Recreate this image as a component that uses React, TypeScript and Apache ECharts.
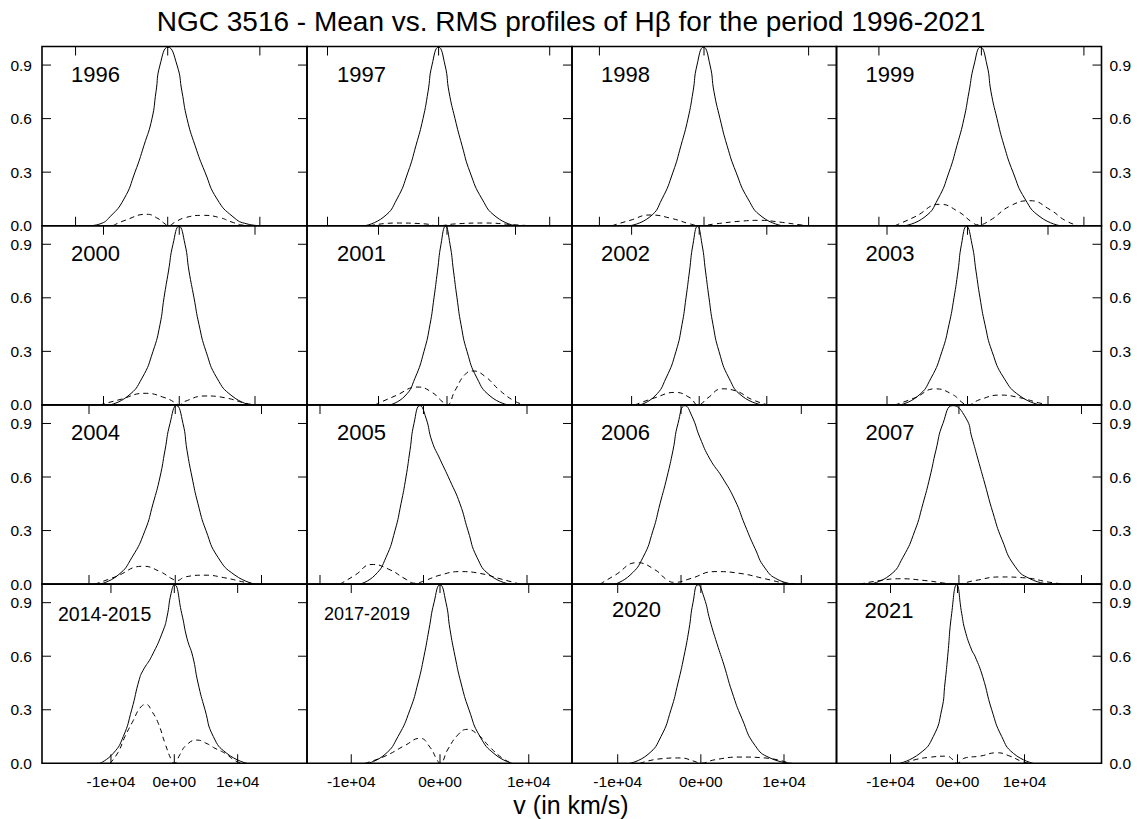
import React, { useEffect, useRef } from "react";
import * as echarts from "echarts";

const titleText = "NGC 3516 - Mean vs. RMS profiles of Hβ for the period 1996-2021";
const xAxisTitle = "v (in km/s)";
const panelLabels = ["1996", "1997", "1998", "1999", "2000", "2001", "2002", "2003", "2004", "2005", "2006", "2007", "2014-2015", "2017-2019", "2020", "2021"];
const xTicks = [-10000, 0, 10000];
const xTickLabels = ["-1e+04", "0e+00", "1e+04"];
const yTicks = [0.3, 0.6, 0.9];
const yLabelValues = [0, 0.3, 0.6, 0.9];
const yTickLabels = ["0.0", "0.3", "0.6", "0.9"];
const yMax = 1.004;

// velocity range (km/s) of each panel's x axis
const xLimits = [
  [-13641, 15117], [-11845, 12007], [-12620, 12667], [-14137, 11717],
  [-18119, 16865], [-20438, 18248], [-18817, 20311], [-16273, 16646],
  [-15449, 15275], [-11256, 14348], [-9061, 12926], [-9990, 11633],
  [-20884, 20947], [-14986, 14873], [-15496, 16314], [-18060, 21493],
];

// mean profiles [v, normalised flux]
const mean1996 = [[-8432,0],[-7347,0.01],[-6262,0.05],[-4742,0.15],[-3549,0.3],[-2572,0.45],[-1704,0.6],[-1270,0.75],[-836,0.9],[33,1.0],[1009,0.9],[1552,0.75],[2094,0.6],[2963,0.45],[4048,0.3],[5350,0.15],[7086,0.05],[8606,0.01],[10016,0]];
const mean1997 = [[-6625,0],[-4915,0.05],[-3744,0.15],[-2754,0.3],[-2034,0.45],[-1404,0.6],[-954,0.75],[-594,0.9],[-9,1.0],[576,0.9],[936,0.75],[1476,0.6],[2106,0.45],[2826,0.3],[3906,0.15],[5166,0.05],[6877,0]];
const mean1998 = [[-7074,0],[-5162,0.05],[-4015,0.15],[-2964,0.3],[-2199,0.45],[-1530,0.6],[-1052,0.75],[-669,0.9],[-48,1.0],[574,0.9],[956,0.75],[1530,0.6],[2199,0.45],[3059,0.3],[4206,0.15],[5545,0.05],[7457,0]];
const mean1999 = [[-7454,0],[-5502,0.05],[-4234,0.15],[-3161,0.3],[-2380,0.45],[-1698,0.6],[-1210,0.75],[-722,0.9],[-88,1.0],[546,0.9],[937,0.75],[1522,0.6],[2205,0.45],[3083,0.3],[4254,0.15],[5717,0.05],[7668,0]];
const mean2000 = [[-9141,0],[-6765,0.05],[-4917,0.15],[-3465,0.3],[-2541,0.45],[-2013,0.6],[-1419,0.75],[-825,0.9],[-33,1.0],[759,0.9],[1287,0.75],[1947,0.6],[2607,0.45],[3531,0.3],[4983,0.15],[6963,0.05],[9339,0]];
const mean2001 = [[-8322,0],[-6132,0.05],[-4672,0.15],[-3358,0.3],[-2482,0.45],[-1898,0.6],[-1387,0.75],[-876,0.9],[-219,1.0],[438,0.9],[949,0.75],[1460,0.6],[2044,0.45],[2920,0.3],[4380,0.15],[6278,0.05],[8906,0]];
const mean2002 = [[-8756,0],[-6537,0.05],[-4910,0.15],[-3431,0.3],[-2544,0.45],[-1952,0.6],[-1435,0.75],[-917,0.9],[-251,1.0],[414,0.9],[932,0.75],[1449,0.6],[2041,0.45],[2928,0.3],[4407,0.15],[6330,0.05],[9288,0]];
const mean2003 = [[-8384,0],[-6148,0.05],[-4533,0.15],[-3167,0.3],[-2298,0.45],[-1677,0.6],[-1180,0.75],[-745,0.9],[-124,1.0],[559,0.9],[1056,0.75],[1553,0.6],[2174,0.45],[3043,0.3],[4533,0.15],[6521,0.05],[9005,0]];
const mean2004 = [[-8722,0],[-6635,0.05],[-5013,0.15],[-3506,0.3],[-2579,0.45],[-1767,0.6],[-1188,0.75],[-608,0.9],[145,1.0],[898,0.9],[1362,0.75],[1941,0.6],[2637,0.45],[3564,0.3],[4955,0.15],[6925,0.05],[9243,0]];
const mean2005 = [[-6134,0],[-4685,0.05],[-3623,0.15],[-2753,0.3],[-2174,0.45],[-1691,0.6],[-1304,0.75],[-918,0.9],[-338,1.0],[242,0.93],[821,0.8],[1594,0.7],[2560,0.58],[3526,0.45],[4299,0.3],[5168,0.15],[6424,0.05],[8356,0]];
const mean2006 = [[-5485,0],[-4238,0.05],[-3158,0.15],[-2327,0.3],[-1745,0.45],[-1163,0.6],[-665,0.75],[-249,0.9],[332,1.0],[914,0.94],[1579,0.82],[2410,0.7],[3407,0.6],[4487,0.47],[5318,0.33],[6149,0.2],[6980,0.09],[8061,0.025],[9473,0]];
const mean2007 = [[-7262,0],[-5630,0.05],[-4570,0.15],[-3590,0.3],[-2938,0.45],[-2366,0.6],[-1877,0.75],[-1306,0.9],[-490,1.0],[571,0.93],[1061,0.82],[1550,0.7],[2122,0.56],[2774,0.4],[3509,0.25],[4570,0.1],[5794,0.03],[7426,0]];
const mean2014 = [[-11732,0],[-9632,0.056],[-8053,0.15],[-6727,0.3],[-5527,0.47],[-4942,0.52],[-3569,0.6],[-1737,0.746],[-1153,0.82],[-521,0.95],[0,1.0],[1168,0.84],[2005,0.7],[2905,0.6],[3742,0.45],[4848,0.3],[6158,0.15],[8274,0.056],[11432,0]];
const mean2017 = [[-8114,0],[-6199,0.05],[-4733,0.15],[-3381,0.3],[-2479,0.45],[-1803,0.6],[-1240,0.75],[-676,0.9],[0,1.0],[676,0.9],[1127,0.75],[1691,0.6],[2367,0.45],[3268,0.3],[4508,0.15],[6199,0.05],[8114,0]];
const mean2020 = [[-8523,0],[-6358,0.05],[-4794,0.15],[-3591,0.3],[-2749,0.45],[-2027,0.6],[-1426,0.75],[-944,0.9],[-343,1.0],[379,0.93],[1101,0.8],[1943,0.67],[2785,0.55],[3747,0.4],[4950,0.25],[6514,0.1],[8319,0.03],[10965,0]];
const mean2021 = [[-8585,0],[-5599,0.056],[-3613,0.15],[-2359,0.3],[-1866,0.45],[-1463,0.6],[-866,0.84],[-119,1.0],[627,0.84],[1120,0.746],[2120,0.634],[2613,0.6],[3762,0.485],[5106,0.3],[6599,0.15],[8331,0.056],[11272,0]];

// rms profiles [v, normalised flux]
const rms1996 = [[-5936,0],[-4634,0.03],[-2279,0.064],[-1053,0.04],[-293,0.01],[65,0],[792,0.02],[1877,0.045],[3863,0.058],[5676,0.045],[6978,0.02],[8171,0.003],[9000,0]];
const rms1997 = [[-6175,0],[-3924,0.015],[-1224,0.01],[-54,0],[1476,0.01],[4176,0.015],[6877,0.005],[8200,0]];
const rms1998 = [[-8795,0],[-7074,0.03],[-5162,0.06],[-3059,0.04],[-1338,0.01],[-382,0],[1052,0.01],[3442,0.025],[5354,0.03],[7266,0.02],[9178,0.005],[10000,0]];
const rms1999 = [[-8439,0],[-6488,0.05],[-4039,0.12],[-2283,0.08],[-917,0.02],[-332,0.005],[839,0.03],[2790,0.11],[4741,0.14],[6693,0.09],[8156,0.03],[9424,0]];
const rms2000 = [[-10461,0],[-7821,0.03],[-4521,0.065],[-1881,0.04],[-429,0.01],[-33,0],[759,0.02],[3399,0.05],[6039,0.04],[8679,0.01],[10000,0]];
const rms2001 = [[-10512,0],[-7592,0.05],[-4234,0.1],[-2190,0.07],[-730,0.02],[0,0],[1168,0.08],[2628,0.17],[3796,0.19],[5548,0.16],[7738,0.08],[9928,0.02],[11388,0]];
const rms2002 = [[-9495,0],[-6537,0.04],[-3579,0.07],[-1361,0.04],[-177,0],[1302,0.04],[3372,0.09],[5295,0.08],[7809,0.03],[10175,0]];
const rms2003 = [[-9005,0],[-6521,0.04],[-4037,0.09],[-1925,0.06],[-559,0.01],[-62,0],[1553,0.03],[4037,0.055],[6521,0.04],[9005,0.01],[10247,0]];
const rms2004 = [[-9300,0],[-6983,0.04],[-3738,0.1],[-1767,0.07],[-377,0.03],[203,0.02],[1130,0.04],[3448,0.05],[5766,0.035],[8084,0.01],[9243,0]];
const rms2005 = [[-8066,0],[-6617,0.05],[-4975,0.11],[-3236,0.08],[-1787,0.03],[-821,0.005],[145,0.02],[1594,0.05],[3526,0.07],[5458,0.06],[7390,0.03],[9322,0]];
const rms2006 = [[-6731,0],[-5485,0.05],[-3656,0.12],[-2161,0.08],[-1080,0.02],[-499,0.01],[748,0.03],[2825,0.07],[4903,0.06],[6980,0.03],[8642,0.005],[9473,0]];
const rms2007 = [[-8078,0],[-6446,0.02],[-4814,0.03],[-2774,0.02],[-1142,0.005],[-326,0],[1306,0.02],[3346,0.04],[5386,0.035],[7426,0.01],[8650,0]];
const rms2014 = [[-10153,0],[-8890,0.06],[-7784,0.15],[-6474,0.24],[-5416,0.31],[-4469,0.33],[-3521,0.29],[-2526,0.224],[-1468,0.112],[-411,0.015],[0,0],[900,0.05],[1847,0.1],[3537,0.13],[5163,0.11],[6426,0.084],[8006,0.056],[9585,0.015],[10690,0]];
const rms2017 = [[-8453,0],[-6199,0.04],[-3945,0.1],[-2254,0.14],[-1127,0.09],[-338,0.02],[0,0],[902,0.08],[2029,0.16],[3043,0.19],[4283,0.16],[5635,0.09],[6987,0.03],[8114,0]];
const rms2020 = [[-7320,0],[-4914,0.025],[-2508,0.03],[-704,0.01],[-102,0],[1703,0.02],[4709,0.035],[7717,0.03],[10724,0]];
const rms2021 = [[-7838,0],[-6345,0.02],[-4106,0.034],[-1612,0.04],[-672,0.02],[-75,0],[1120,0.03],[3359,0.04],[5853,0.059],[7838,0.04],[9630,0.01],[10824,0]];

const meanProfiles = [mean1996, mean1997, mean1998, mean1999, mean2000, mean2001, mean2002, mean2003, mean2004, mean2005, mean2006, mean2007, mean2014, mean2017, mean2020, mean2021];
const rmsProfiles = [rms1996, rms1997, rms1998, rms1999, rms2000, rms2001, rms2002, rms2003, rms2004, rms2005, rms2006, rms2007, rms2014, rms2017, rms2020, rms2021];

const FONT = '"Liberation Sans", Arial, Helvetica, sans-serif';
const TICK_LEN = 9;

export default function App() {
  const ref = useRef<HTMLDivElement>(null);
  useEffect(() => {
    if (!ref.current) return;
    const chart = echarts.init(ref.current, null, { renderer: "svg" });
    const colLeft = [42, 307, 572, 836.5];
    const colWidth = [265, 265, 264.5, 265];
    const rowTop = [46.5, 225.7, 404.9, 584.1];
    const rowHeight = 179.2;
    const labelDx = [29, 30, 29, 29, 29, 30, 29, 29, 29, 30, 29, 29, 16, 17, 40, 28];
    const labelDy = [27.5, 27.5, 27.5, 27.5, 27.5, 27.5, 27.5, 27.5, 27.5, 27.5, 27.5, 27.5, 29.6, 29.5, 25.5, 26.7];
    const labelSize = [22, 22, 22, 22, 22, 22, 22, 22, 22, 22, 22, 22, 19.5, 18, 22, 22];

    const grids: any[] = [];
    const xAxes: any[] = [];
    const yAxes: any[] = [];
    const series: any[] = [];
    const graphics: any[] = [];

    const tickMarks = (i: number, data: number[][], size: number[], offset: number[]) => ({
      type: "scatter", xAxisIndex: i, yAxisIndex: i, silent: true, clip: false, z: 6,
      data, symbol: "rect", symbolSize: size, symbolOffset: offset,
      itemStyle: { color: "#000", opacity: 1 },
      emphasis: { disabled: true },
    });

    for (let i = 0; i < 16; i++) {
      const r = Math.floor(i / 4);
      const c = i % 4;
      const [xmin, xmax] = xLimits[i];
      const inRange = xTicks.filter((t) => t >= xmin && t <= xmax);
      grids.push({
        left: colLeft[c], top: rowTop[r], width: colWidth[c], height: rowHeight,
        show: true, borderColor: "#000", borderWidth: 1.6, backgroundColor: "transparent",
        containLabel: false,
      });
      xAxes.push({
        type: "value", gridIndex: i, min: xmin, max: xmax, position: "bottom",
        axisLine: { show: false, onZero: false }, splitLine: { show: false }, axisTick: { show: false },
        axisLabel: {
          show: r === 3, customValues: inRange, margin: 10, color: "#000", fontSize: 15.5, fontFamily: FONT,
          formatter: (v: number) => xTickLabels[xTicks.indexOf(v)] ?? "",
        },
      });
      yAxes.push({
        type: "value", gridIndex: i, min: 0, max: yMax, position: c === 3 ? "right" : "left",
        axisLine: { show: false, onZero: false }, splitLine: { show: false }, axisTick: { show: false },
        axisLabel: {
          show: c === 0 || c === 3, customValues: yLabelValues, margin: c === 3 ? 8 : 10, color: "#000", fontSize: 15.5, fontFamily: FONT,
          formatter: (v: number) => yTickLabels[yLabelValues.indexOf(v)] ?? "",
        },
      });
      series.push({
        type: "line", name: "mean " + panelLabels[i], xAxisIndex: i, yAxisIndex: i,
        data: meanProfiles[i], showSymbol: false, smooth: 0.55,
        lineStyle: { color: "#000", width: 1 }, silent: true, clip: true,
      });
      series.push({
        type: "line", name: "rms " + panelLabels[i], xAxisIndex: i, yAxisIndex: i,
        data: rmsProfiles[i], showSymbol: false, smooth: 0.5,
        lineStyle: { color: "#000", width: 1, type: [5, 4] }, silent: true, clip: true,
      });
      // inward tick marks, positioned through the axis scales
      series.push(tickMarks(i, inRange.map((v) => [v, 0]), [1, TICK_LEN], [0, -TICK_LEN / 2]));
      series.push(tickMarks(i, inRange.map((v) => [v, yMax]), [1, TICK_LEN], [0, TICK_LEN / 2]));
      series.push(tickMarks(i, yTicks.map((v) => [xmax, v]), [TICK_LEN, 1], [-TICK_LEN / 2, 0]));
      if (c === 0) {
        series.push(tickMarks(i, yTicks.map((v) => [xmin, v]), [TICK_LEN, 1], [TICK_LEN / 2, 0]));
      }
      graphics.push({
        type: "text", x: colLeft[c] + labelDx[i], y: rowTop[r] + labelDy[i],
        style: { text: panelLabels[i], fill: "#000", fontSize: labelSize[i], fontFamily: FONT, align: "left", verticalAlign: "middle" },
      });
    }
    graphics.push({
      type: "text", x: 571, y: 21,
      style: { text: titleText, fill: "#000", fontSize: 28, fontFamily: FONT, align: "center", verticalAlign: "middle" },
    });
    graphics.push({
      type: "text", x: 571, y: 805,
      style: { text: xAxisTitle, fill: "#000", fontSize: 25, fontFamily: FONT, align: "center", verticalAlign: "middle" },
    });

    chart.setOption({
      animation: false,
      backgroundColor: "#fff",
      grid: grids,
      xAxis: xAxes,
      yAxis: yAxes,
      series,
      graphic: graphics,
    });
    return () => chart.dispose();
  }, []);
  return (
    <div
      ref={ref}
      style={{ position: "fixed", left: 0, top: 0, width: 1141, height: 819, background: "#fff" }}
    />
  );
}
